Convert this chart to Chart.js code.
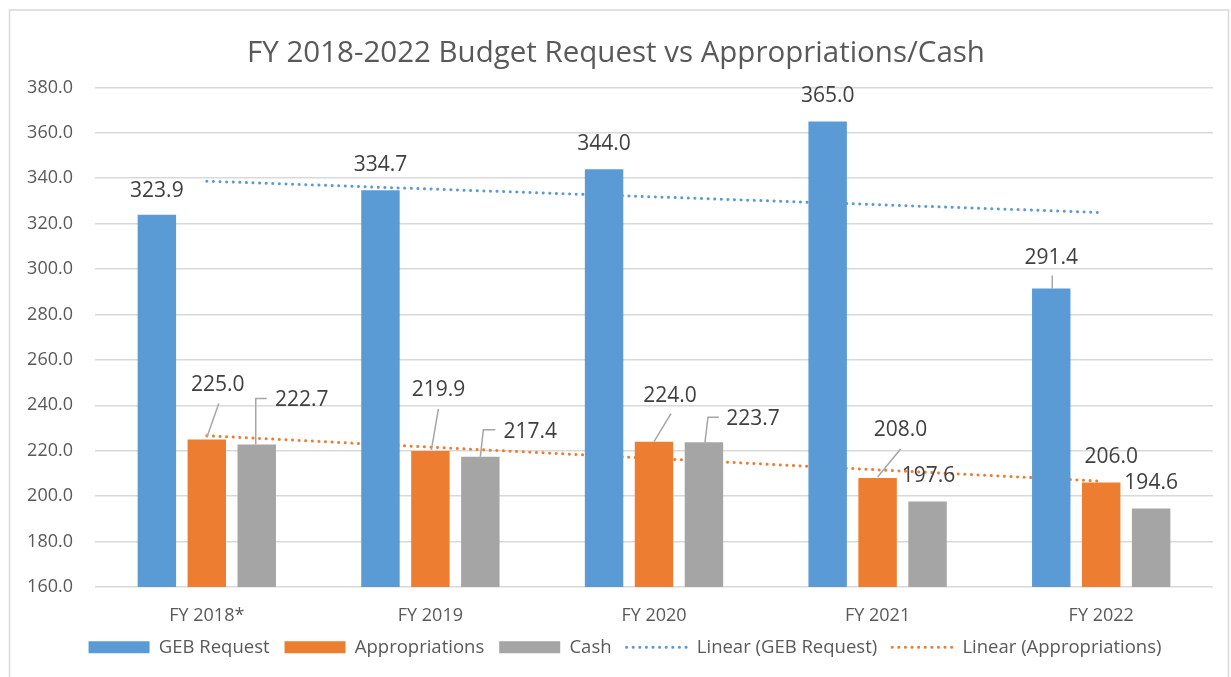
<!DOCTYPE html>
<html>
<head>
<meta charset="utf-8">
<script src="https://cdn.jsdelivr.net/npm/chart.js@4"></script>
<style>
  html, body { margin: 0; padding: 0; background: #fff; }
</style>
</head>
<body>
<canvas id="budget" width="1231" height="677"></canvas>
<script>
const categories = ['FY 2018*', 'FY 2019', 'FY 2020', 'FY 2021', 'FY 2022'];
const gebRequest = [323.9, 334.7, 344.0, 365.0, 291.4];
const appropriations = [225.0, 219.9, 224.0, 208.0, 206.0];
const cash = [222.7, 217.4, 223.7, 197.6, 194.6];
// trendline end values
const gebTrend = [338.7, null, null, null, 324.9];
const apprTrend = [226.6, null, null, null, 206.6];
const yTicks = [160, 180, 200, 220, 240, 260, 280, 300, 320, 340, 360, 380];

const TEXT = '#595959';
const FONT = '"Open Sans", "Liberation Sans", sans-serif';

// where each value label sits, offset from the top centre of its bar
const labelPos = [
    [[0, -24], [0, -25], [0, -25], [0, -25], [0, -31]],
    [[11, -54], [8, -61], [16, -46], [23, -48], [10, -26]],
    [[45, -45], [50, -25], [49, -23], [1, -26], [0, -25]]
];
// leader lines (polylines), same offsets
const leaders = [
    [null, null, null, null, [[1, -13], [1, 0]]],
    [[[12, -36], [0, -2]], [[8, -42], [1, -1]], [[17, -28], [0, 0]], [[23, -29], [0, -1]], null],
    [[[10, -46], [-1, -46], [-1, 0]], [[15, -27], [3, -27], [0, 0]], [[15, -25], [4, -25], [1, 0]], null, null]
];

const frame = {
    id: 'frame',
    afterLayout(chart) {
        // the legend row sits a little right of centre in the original
        chart.legend.left += 9;
        chart.legend.right += 9;
    },
    beforeDraw(chart) {
        const ctx = chart.ctx;
        ctx.save();
        ctx.fillStyle = '#fff';
        ctx.fillRect(0, 0, chart.width, chart.height);
        ctx.strokeStyle = '#d9d9d9';
        ctx.lineWidth = 1.5;
        ctx.strokeRect(9.5, 10, 1219, 700);
        ctx.restore();
    }
};

const barLabels = {
    id: 'barLabels',
    afterDatasetsDraw(chart) {
        const ctx = chart.ctx;
        ctx.save();
        ctx.font = '21px ' + FONT;
        ctx.fillStyle = '#404040';
        ctx.textAlign = 'center';
        ctx.textBaseline = 'middle';
        [0, 1, 2].forEach(function (di) {
            const meta = chart.getDatasetMeta(di);
            meta.data.forEach(function (bar, i) {
                const val = chart.data.datasets[di].data[i];
                const lead = leaders[di][i];
                if (lead) {
                    ctx.strokeStyle = '#a6a6a6';
                    ctx.lineWidth = 1.5;
                    ctx.beginPath();
                    lead.forEach(function (p, k) {
                        if (k === 0) ctx.moveTo(bar.x + p[0], bar.y + p[1]);
                        else ctx.lineTo(bar.x + p[0], bar.y + p[1]);
                    });
                    ctx.stroke();
                }
                ctx.fillText(val.toFixed(1), bar.x + labelPos[di][i][0], bar.y + labelPos[di][i][1]);
            });
        });
        ctx.restore();
    }
};

Chart.defaults.font.family = FONT;
Chart.defaults.color = TEXT;

new Chart(document.getElementById('budget'), {
    type: 'bar',
    data: {
        labels: categories,
        datasets: [
            { label: 'GEB Request', data: gebRequest, backgroundColor: '#5b9bd5', order: 1 },
            { label: 'Appropriations', data: appropriations, backgroundColor: '#ed7d31', order: 1 },
            { label: 'Cash', data: cash, backgroundColor: '#a5a5a5', order: 1 },
            {
                type: 'line', label: 'Linear (GEB Request)', data: gebTrend,
                borderColor: '#5b9bd5', borderWidth: 3, borderDash: [0.1, 6.5], borderCapStyle: 'round',
                pointRadius: 0, spanGaps: true, fill: false, order: 2
            },
            {
                type: 'line', label: 'Linear (Appropriations)', data: apprTrend,
                borderColor: '#ed7d31', borderWidth: 3, borderDash: [0.1, 6.5], borderCapStyle: 'round',
                pointRadius: 0, spanGaps: true, fill: false, order: 2
            }
        ]
    },
    options: {
        responsive: false,
        animation: false,
        layout: { padding: { top: 24, left: 19, right: 18, bottom: 10.5 } },
        datasets: {
            bar: { categoryPercentage: 0.67, barPercentage: 0.77 }
        },
        scales: {
            x: {
                grid: { display: false, drawTicks: false },
                border: { display: false },
                ticks: { color: TEXT, font: { size: 18 }, padding: 18 },
                afterFit: function (s) { s.height = 36; }
            },
            y: {
                min: 160,
                max: 380,
                grid: { color: '#d9d9d9', lineWidth: 1.5, drawTicks: false },
                border: { display: false },
                ticks: {
                    color: TEXT, font: { size: 18 }, padding: 22,
                    callback: function (v) { return Number(v).toFixed(1); }
                },
                afterBuildTicks: function (s) { s.ticks = yTicks.map(function (v) { return { value: v }; }); },
                afterFit: function (s) { s.width = 76; }
            }
        },
        plugins: {
            title: {
                display: true,
                text: 'FY 2018-2022 Budget Request vs Appropriations/Cash',
                color: TEXT,
                font: { size: 29.5, weight: 'normal' },
                padding: { top: 12, bottom: 16 }
            },
            legend: {
                position: 'bottom',
                labels: {
                    color: TEXT,
                    font: { size: 18.5 },
                    usePointStyle: true,
                    pointStyleWidth: 61,
                    boxHeight: 12,
                    padding: 15,
                    sort: function (a, b) { return a.datasetIndex - b.datasetIndex; },
                    generateLabels: function (chart) {
                        const items = Chart.defaults.plugins.legend.labels.generateLabels(chart);
                        return items.map(function (item) {
                            const ds = chart.data.datasets[item.datasetIndex];
                            if (ds.type === 'line') {
                                return Object.assign(item, {
                                    pointStyle: 'line', lineWidth: 3, lineDash: [0.1, 6.5],
                                    lineCap: 'round', strokeStyle: ds.borderColor
                                });
                            }
                            return Object.assign(item, { pointStyle: 'rect', lineWidth: 0, fillStyle: ds.backgroundColor });
                        });
                    }
                }
            },
            tooltip: { enabled: false }
        }
    },
    plugins: [frame, barLabels]
});
</script>
</body>
</html>
